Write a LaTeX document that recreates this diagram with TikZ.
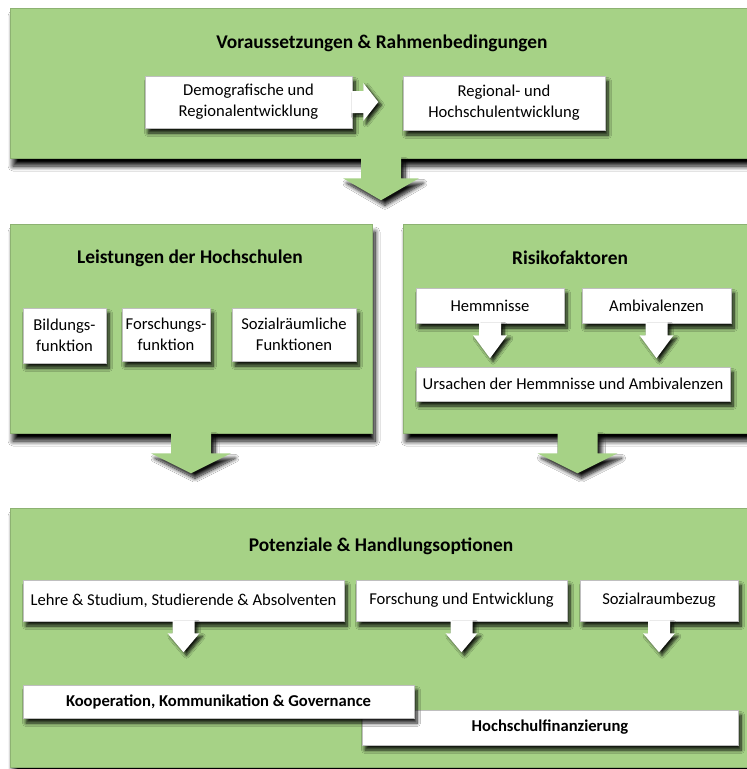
\documentclass[tikz,border=0pt]{standalone}
\usepackage{fontspec}
\setmainfont{Carlito}
\usetikzlibrary{shadows.blur,calc}
\definecolor{panelgreen}{RGB}{166,210,134}
\tikzset{
  panel/.style={fill=panelgreen, draw=panelgreen!85!black, line width=0.5pt,
    blur shadow={shadow xshift=3pt, shadow yshift=-8pt, shadow blur radius=5pt, shadow blur steps=10, shadow opacity=100},
    inner sep=0pt},
  wbox/.style={fill=white, draw=black!25, line width=0.5pt,
    blur shadow={shadow xshift=3pt, shadow yshift=-5pt, shadow blur radius=3.5pt, shadow blur steps=8, shadow opacity=90},
    inner sep=0pt, align=center, font=\fontsize{16.6}{21}\selectfont},
  bbox/.style={wbox, font=\bfseries\fontsize{16.6}{21}\selectfont},
  ptitle/.style={font=\bfseries\fontsize{19.4}{22}\selectfont, inner sep=0pt},
  garrow/.style={fill=panelgreen, draw=none,
    blur shadow={shadow xshift=4pt, shadow yshift=-5pt, shadow blur radius=4pt, shadow blur steps=8, shadow opacity=95}},
  warrow/.style={fill=white, draw=none,
    blur shadow={shadow xshift=3pt, shadow yshift=-3pt, shadow blur radius=3pt, shadow blur steps=6, shadow opacity=90}},
}
\begin{document}
\begin{tikzpicture}[x=1pt,y=-1pt]
\fill[white] (0,0) rectangle (747,769);
\useasboundingbox (0,0) rectangle (747,769);

% top panel
\node[panel, minimum width=742pt, minimum height=150pt] (top) at (381,83) {};
\node[ptitle] (t1) at (382,43) {Voraussetzungen \& Rahmenbedingungen};
\node[wbox, minimum width=207pt, minimum height=52pt] (demo) at (248.5,102) {\raisebox{-2pt}{\parbox{200pt}{\centering Demografische und\\Regionalentwicklung}}};
\node[wbox, minimum width=202pt, minimum height=54pt] (regio) at (504,103) {\raisebox{-2pt}{\parbox{195pt}{\centering Regional- und\\Hochschulentwicklung}}};
\path[warrow, shift={(demo.east)}] (-1,-11) -- (11,-11) -- (11,-19) -- (26,0) -- (11,19) -- (11,11) -- (-1,11) -- cycle;

% middle left panel
\node[panel, minimum width=362pt, minimum height=209pt] (left) at (191,328.5) {};
\node[ptitle] (t2) at (190,258) {Leistungen der Hochschulen};
\node[wbox, minimum width=83pt, minimum height=55pt] (bild) at (64.5,335.5) {Bildungs-\\funktion};
\node[wbox, minimum width=88pt, minimum height=53pt] (forsch) at (166,334.5) {Forschungs-\\funktion};
\node[wbox, minimum width=124pt, minimum height=53pt] (sozf) at (294,334.5) {Sozialräumliche\\Funktionen};

% middle right panel
\node[panel, minimum width=349pt, minimum height=209pt] (right) at (577.5,328.5) {};
\node[ptitle] (t3) at (570,258) {Risikofaktoren};
\node[wbox, minimum width=148pt, minimum height=35pt] (hemm) at (490,305.5) {Hemmnisse};
\node[wbox, minimum width=149pt, minimum height=35pt] (ambi) at (656.5,305.5) {Ambivalenzen};
\node[wbox, minimum width=314pt, minimum height=34pt] (urs) at (573,384) {Ursachen der Hemmnisse und Ambivalenzen};
\path[warrow, shift={(hemm.south)}] (-11,-1) -- (11,-1) -- (11,12) -- (17,12) -- (0,35) -- (-17,12) -- (-11,12) -- cycle;
\path[warrow, shift={(ambi.south)}] (-11,-1) -- (11,-1) -- (11,12) -- (17,12) -- (0,35) -- (-17,12) -- (-11,12) -- cycle;

% green arrows
\path[garrow, shift={(top.south)}] (-20,-2) -- (20,-2) -- (20,20) -- (38,20) -- (0,42) -- (-38,20) -- (-20,20) -- cycle;
\path[garrow, shift={(left.south)}] (-20,-2) -- (20,-2) -- (20,20) -- (40,20) -- (0,40) -- (-40,20) -- (-20,20) -- cycle;
\path[garrow, shift={(right.south)}] (-20,-2) -- (20,-2) -- (20,20) -- (40,20) -- (0,40) -- (-40,20) -- (-20,20) -- cycle;

% bottom panel
\node[panel, minimum width=742pt, minimum height=259pt] (bottom) at (381,637.5) {};
\node[ptitle] (t4) at (381,546) {Potenziale \& Handlungsoptionen};
\node[wbox, minimum width=321pt, minimum height=41pt] (lehre) at (183.5,600.5) {Lehre \& Studium, Studierende \& Absolventen};
\node[wbox, minimum width=211pt, minimum height=41pt] (fue) at (461.5,600.5) {Forschung und Entwicklung};
\node[wbox, minimum width=158pt, minimum height=41pt] (sozb) at (659,600.5) {Sozialraumbezug};
\path[warrow, shift={(lehre.south)}] (-11,-1) -- (11,-1) -- (11,12) -- (16,12) -- (0,31) -- (-16,12) -- (-11,12) -- cycle;
\path[warrow, shift={(fue.south)}] (-11,-1) -- (11,-1) -- (11,12) -- (16,12) -- (0,31) -- (-16,12) -- (-11,12) -- cycle;
\path[warrow, shift={(sozb.south)}] (-11,-1) -- (11,-1) -- (11,12) -- (16,12) -- (0,31) -- (-16,12) -- (-11,12) -- cycle;
\node[bbox, minimum width=376pt, minimum height=35pt] (hfin) at (550,727.5) {Hochschulfinanzierung};
\node[bbox, minimum width=391pt, minimum height=33pt] (koop) at (218.5,701.5) {Kooperation, Kommunikation \& Governance};
\end{tikzpicture}
\end{document}
